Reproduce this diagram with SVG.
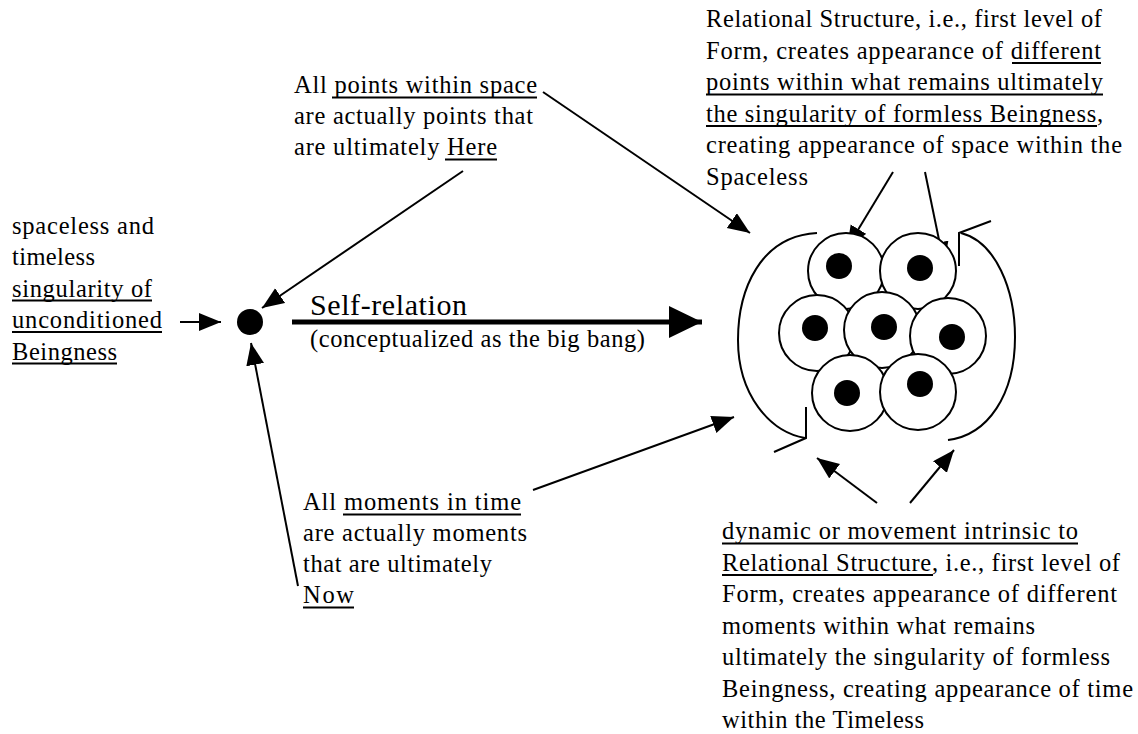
<svg xmlns="http://www.w3.org/2000/svg" width="1138" height="734" viewBox="0 0 1138 734">
<style>
text{font-family:"Liberation Serif","Times New Roman",serif;font-size:24.5px;fill:#000}
.big{font-size:30px}
.ul{stroke:#000;stroke-width:2}
.cn{stroke:#000;stroke-width:2;fill:none}
.cell{fill:#fff;stroke:#000;stroke-width:2}
.br{fill:none;stroke:#000;stroke-width:2}
</style>
<defs>
<marker id="ah" markerUnits="userSpaceOnUse" markerWidth="23" markerHeight="19" refX="22" refY="9" orient="auto"><path d="M0,0 L22,9 L0,18 z" fill="#000"/></marker>
<marker id="ahb" markerUnits="userSpaceOnUse" markerWidth="34" markerHeight="33" refX="33" refY="16" orient="auto"><path d="M0,0 L33,16 L0,32 z" fill="#000"/></marker>
</defs>
<rect width="1138" height="734" fill="#fff"/>
<g id="connectors">
<line class="cn" x1="543" y1="92" x2="750" y2="233" marker-end="url(#ah)"/>
<line class="cn" x1="463" y1="171" x2="262" y2="308" marker-end="url(#ah)"/>
<line class="cn" x1="180" y1="322" x2="221" y2="322" marker-end="url(#ah)"/>
<line class="cn" x1="298" y1="586" x2="251" y2="343" marker-end="url(#ah)"/>
<line class="cn" x1="533" y1="490" x2="734" y2="417" marker-end="url(#ah)"/>
<line class="cn" x1="893" y1="172" x2="847" y2="248" marker-end="url(#ah)"/>
<line class="cn" x1="925" y1="172" x2="944" y2="264" marker-end="url(#ah)"/>
<line class="cn" x1="877" y1="503" x2="817" y2="458" marker-end="url(#ah)"/>
<line class="cn" x1="910" y1="503" x2="954" y2="450" marker-end="url(#ah)"/>
<line x1="292" y1="322" x2="702" y2="322" stroke="#000" stroke-width="5" marker-end="url(#ahb)"/>
</g>
<g id="singularity-label">
<text x="12" y="233.5" textLength="142" lengthAdjust="spacing">spaceless and</text>
<text x="12" y="265" textLength="83" lengthAdjust="spacing">timeless</text>
<text x="12" y="296.5" textLength="140" lengthAdjust="spacing">singularity of</text>
<text x="12" y="328" textLength="150" lengthAdjust="spacing">unconditioned</text>
<text x="12" y="359.5" textLength="105" lengthAdjust="spacing">Beingness</text>
<line class="ul" x1="12" y1="300.5" x2="152" y2="300.5"/>
<line class="ul" x1="12" y1="332" x2="162" y2="332"/>
<line class="ul" x1="12" y1="363.5" x2="117" y2="363.5"/>
</g>
<g id="singularity-dot">
<circle cx="250" cy="322" r="13" fill="#000"/>
</g>
<g id="here-label">
<text x="294" y="93" textLength="243" lengthAdjust="spacing">All points within space</text>
<text x="294" y="124" textLength="239" lengthAdjust="spacing">are actually points that</text>
<text x="294" y="155" textLength="203" lengthAdjust="spacing">are ultimately Here</text>
<line class="ul" x1="332" y1="97.5" x2="537" y2="97.5"/>
<line class="ul" x1="445" y1="159.5" x2="497" y2="159.5"/>
</g>
<g id="self-relation-label">
<text class="big" x="310" y="315" textLength="157" lengthAdjust="spacing">Self-relation</text>
<text x="310" y="347" textLength="335" lengthAdjust="spacing">(conceptualized as the big bang)</text>
</g>
<g id="now-label">
<text x="303" y="510" textLength="218" lengthAdjust="spacing">All moments in time</text>
<text x="303" y="541" textLength="224" lengthAdjust="spacing">are actually moments</text>
<text x="303" y="572" textLength="189" lengthAdjust="spacing">that are ultimately</text>
<text x="303" y="603" textLength="51" lengthAdjust="spacing">Now</text>
<line class="ul" x1="343" y1="514.5" x2="521" y2="514.5"/>
<line class="ul" x1="303" y1="607.5" x2="354" y2="607.5"/>
</g>
<g id="space-label">
<text x="706" y="27" textLength="396" lengthAdjust="spacing">Relational Structure, i.e., first level of</text>
<text x="706" y="58.5" textLength="395" lengthAdjust="spacing">Form, creates appearance of different</text>
<text x="706" y="90" textLength="397" lengthAdjust="spacing">points within what remains ultimately</text>
<text x="706" y="121.5" textLength="397" lengthAdjust="spacing">the singularity of formless Beingness,</text>
<text x="706" y="153" textLength="416" lengthAdjust="spacing">creating appearance of space within the</text>
<text x="706" y="184.5" textLength="102" lengthAdjust="spacing">Spaceless</text>
<line class="ul" x1="1012" y1="63" x2="1101" y2="63"/>
<line class="ul" x1="706" y1="94.5" x2="1103" y2="94.5"/>
<line class="ul" x1="706" y1="126" x2="1097" y2="126"/>
</g>
<g id="time-label">
<text x="722" y="539" textLength="356" lengthAdjust="spacing">dynamic or movement intrinsic to</text>
<text x="722" y="570.5" textLength="398" lengthAdjust="spacing">Relational Structure, i.e., first level of</text>
<text x="722" y="602" textLength="395" lengthAdjust="spacing">Form, creates appearance of different</text>
<text x="722" y="633.5" textLength="313" lengthAdjust="spacing">moments within what remains</text>
<text x="722" y="665" textLength="388" lengthAdjust="spacing">ultimately the singularity of formless</text>
<text x="722" y="696.5" textLength="411" lengthAdjust="spacing">Beingness, creating appearance of time</text>
<text x="722" y="728" textLength="202" lengthAdjust="spacing">within the Timeless</text>
<line class="ul" x1="722" y1="543.5" x2="1078" y2="543.5"/>
<line class="ul" x1="722" y1="575" x2="933" y2="575"/>
</g>
<g id="relational-structure">
<path class="br" d="M817,233 C760,236 738,290 738,340 C738,395 770,432 805,438"/>
<path class="br" d="M806,407 L806,438 L774,452"/>
<path class="br" d="M961,233 C996,242 1015,290 1015,337 C1015,395 988,435 948,440"/>
<path class="br" d="M959,266 L959,233 L991,221"/>
<circle class="cell" cx="846" cy="271" r="38"/>
<circle class="cell" cx="918" cy="271" r="38"/>
<circle class="cell" cx="817" cy="333" r="38"/>
<circle class="cell" cx="882" cy="330" r="38"/>
<circle class="cell" cx="948" cy="336" r="38"/>
<circle class="cell" cx="850" cy="393" r="38"/>
<circle class="cell" cx="918" cy="392" r="38"/>
<circle cx="839" cy="266" r="13"/>
<circle cx="920" cy="268" r="13"/>
<circle cx="815" cy="328" r="13"/>
<circle cx="884" cy="327" r="13"/>
<circle cx="952" cy="337" r="13"/>
<circle cx="847" cy="393" r="13"/>
<circle cx="920" cy="384" r="13"/>
</g>
</svg>
